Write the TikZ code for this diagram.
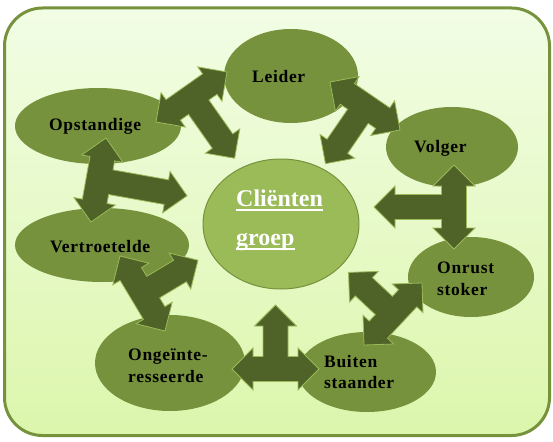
\documentclass[tikz,border=0pt]{standalone}
\usepackage{fontspec}
\setmainfont{Liberation Serif}
\newfontfamily\lblfont[LetterSpace=4]{Liberation Serif}
\usetikzlibrary{shapes.geometric}
\definecolor{ellfill}{HTML}{76923C}
\definecolor{centfill}{HTML}{9BBB59}
\definecolor{arrowfill}{HTML}{4F6228}
\definecolor{arrowline}{HTML}{9BBB59}
\definecolor{bgtop}{HTML}{F2FDE5}
\definecolor{bgbot}{HTML}{DCF6AC}
\tikzset{
  ell/.style={ellipse, fill=ellfill, draw=none, inner sep=0pt},
  centell/.style={ellipse, fill=centfill, draw=ellfill, line width=1pt, inner sep=0pt},
  lbl/.style={anchor=base west, inner sep=0pt, text=black, font=\lblfont\bfseries\fontsize{17.5}{20}\selectfont},
  ctext/.style={anchor=base west, inner sep=0pt, text=white, font=\bfseries\fontsize{24}{28}\selectfont},
  blockarrow/.style={fill=arrowfill, draw=arrowline, line width=0.8pt, line join=miter},
}
% T-shaped block arrow: tips A (#1,#2), B (#3,#4), stem tip C (#5,#6), pixel coords
\newcommand\tarrow[6]{%
  \pgfmathsetmacro\tmx{(#1+#3)/2}%
  \pgfmathsetmacro\tmy{(#2+#4)/2}%
  \pgfmathsetmacro\tdx{#3-#1}%
  \pgfmathsetmacro\tdy{#4-#2}%
  \pgfmathsetmacro\tlen{veclen(\tdx,\tdy)}%
  \pgfmathsetmacro\tha{\tlen/2}%
  \pgfmathsetmacro\thb{\tha-21}%
  \pgfmathsetmacro\tux{\tdx/\tlen}%
  \pgfmathsetmacro\tuy{\tdy/\tlen}%
  \pgfmathsetmacro\tsx{#5-\tmx}%
  \pgfmathsetmacro\tsy{#6-\tmy}%
  \pgfmathsetmacro\tsn{-\tuy*\tsx+\tux*\tsy}%
  \pgfmathsetmacro\tsg{ifthenelse(\tsn<0,-1,1)}%
  \pgfmathsetmacro\tsl{abs(\tsn)}%
  \pgfmathsetmacro\tsb{\tsl-21}%
  \pgfmathsetmacro\tca{\tux}%
  \pgfmathsetmacro\tcb{-1*\tuy}%
  \pgfmathsetmacro\tcc{-1*\tuy*\tsg}%
  \pgfmathsetmacro\tcd{-1*\tux*\tsg}%
  \begin{scope}[shift={(\tmx,\tmy)}, cm={\tca,\tcb,\tcc,\tcd,(0,0)}]
    \draw[blockarrow] (-\tha pt,0pt) -- (-\thb pt,21pt) -- (-\thb pt,12.5pt)
      -- (-12.5pt,12.5pt) -- (-12.5pt,\tsb pt) -- (-21pt,\tsb pt) -- (0pt,\tsl pt)
      -- (21pt,\tsb pt) -- (12.5pt,\tsb pt) -- (12.5pt,12.5pt) -- (\thb pt,12.5pt)
      -- (\thb pt,21pt) -- (\tha pt,0pt) -- (\thb pt,-21pt) -- (\thb pt,-12.5pt)
      -- (-\thb pt,-12.5pt) -- (-\thb pt,-21pt) -- cycle;
  \end{scope}%
}
\begin{document}
\begin{tikzpicture}[x=1pt,y=-1pt]
\useasboundingbox (0,0) rectangle (553,441);
% background panel
\draw[line width=3pt, draw=ellfill, rounded corners=38pt, top color=bgtop, bottom color=bgbot]
  (4.5,8) rectangle (549.5,435.5);
% ellipses
\node[ell, minimum width=134pt, minimum height=94pt] (leider) at (291,76) {};
\node[ell, minimum width=132pt, minimum height=80pt] (volger) at (452,147) {};
\node[ell, minimum width=166pt, minimum height=76pt] (opst) at (98,126) {};
\node[ell, minimum width=174pt, minimum height=74pt] (vert) at (102,245) {};
\node[ell, minimum width=126pt, minimum height=80pt] (onrust) at (471,277) {};
\node[ell, minimum width=150pt, minimum height=96pt] (onge) at (170,363) {};
\node[ell, minimum width=138pt, minimum height=80pt] (buiten) at (367,372) {};
\node[centell, minimum width=156pt, minimum height=130pt] (client) at (281,224) {};
% block arrows
\tarrow{156}{122}{227}{72}{235}{158}
\tarrow{330}{82}{400}{130}{326}{164}
\tarrow{454}{165}{454}{249}{374}{207}
\tarrow{422}{283}{364}{345}{348}{273}
\tarrow{232}{369}{319}{369}{275}{305}
\tarrow{120}{256}{165}{331}{199}{262}
\tarrow{106}{138}{91}{222}{187}{196}
% labels
\node[lbl] (tleider) at (252,83) {Leider};
\node[lbl] (topst) at (49,130) {Opstandige};
\node[lbl] (tvolger) at (414,152) {Volger};
\node[lbl] (tvert) at (50,252) {Vertroetelde};
\node[lbl] (tonrust1) at (437,273) {Onrust};
\node[lbl] (tonrust2) at (437,295) {stoker};
\node[lbl] (tonge1) at (128,360) {Ongeïnte-};
\node[lbl] (tonge2) at (128,382) {resseerde};
\node[lbl] (tbuiten1) at (324,367) {Buiten};
\node[lbl] (tbuiten2) at (324,388) {staander};
\node[ctext] (cl) at (236,206) {Cliënten};
\node[ctext] (gr) at (236,245) {groep};
\draw[white, line width=1.4pt] ([yshift=-4pt]cl.base west) -- ([yshift=-4pt]cl.base east);
\draw[white, line width=1.4pt] ([yshift=-4pt]gr.base west) -- ([yshift=-4pt]gr.base east);
\end{tikzpicture}
\end{document}
